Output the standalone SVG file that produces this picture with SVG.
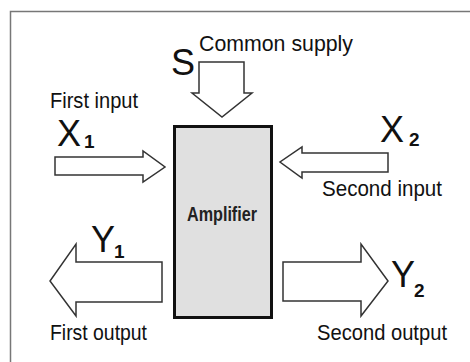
<svg xmlns="http://www.w3.org/2000/svg" width="470" height="362" viewBox="0 0 470 362">
<style>
.frame{fill:none;stroke:#777;stroke-width:1.5}
.arrow{fill:#fff;stroke:#333;stroke-width:1.5;stroke-linejoin:miter}
.lbl{font-family:"Liberation Sans",Arial,sans-serif;font-size:22px;fill:#111}
.sym{font-family:"Liberation Sans",Arial,sans-serif;font-size:36px;fill:#111}
.sub{font-family:"Liberation Sans",Arial,sans-serif;font-size:19px;font-weight:bold;fill:#111}
.box{fill:#e0e0e0;stroke:#111;stroke-width:3}
.boxt{font-family:"Liberation Sans",Arial,sans-serif;font-size:21px;font-weight:bold;fill:#222}
</style>
<rect class="frame" x="10.5" y="11.5" width="520" height="420"/>
<g id="amplifier">
<rect class="box" x="174.5" y="126.5" width="97" height="191"/>
<text class="boxt" x="222" y="221" text-anchor="middle" textLength="70" lengthAdjust="spacingAndGlyphs">Amplifier</text>
</g>
<g id="connectors">
<polygon id="supply-arrow" class="arrow" points="199,62 244,62 244,93 252,93 222,117 192,93 199,93"/>
<polygon id="x1-arrow" class="arrow" points="55,157 143,157 143,151 165,167 143,182 143,175 55,175"/>
<polygon id="x2-arrow" class="arrow" points="388,153 302,153 302,147 280,162 302,178 302,172 388,172"/>
<polygon id="y1-arrow" class="arrow" points="162,262 76,262 76,244 50,281 76,316 76,302 162,302"/>
<polygon id="y2-arrow" class="arrow" points="283,262 361,262 361,244 388,281 361,316 361,301 283,301"/>
</g>
<g id="supply">
<text class="sym" x="171" y="75" font-size="38">S</text>
<text class="lbl" x="199" y="51" textLength="154" lengthAdjust="spacingAndGlyphs">Common supply</text>
</g>
<g id="input1">
<text class="lbl" x="50" y="108" textLength="88" lengthAdjust="spacingAndGlyphs">First input</text>
<text class="sym" x="57" y="146">X</text>
<text class="sub" x="84" y="148">1</text>
</g>
<g id="input2">
<text class="sym" x="380" y="142">X</text>
<text class="sub" x="409" y="146">2</text>
<text class="lbl" x="322" y="196" textLength="120" lengthAdjust="spacingAndGlyphs">Second input</text>
</g>
<g id="output1">
<text class="sym" x="91" y="252">Y</text>
<text class="sub" x="114" y="258">1</text>
<text class="lbl" x="50" y="340" textLength="97" lengthAdjust="spacingAndGlyphs">First output</text>
</g>
<g id="output2">
<text class="sym" x="391" y="287">Y</text>
<text class="sub" x="414" y="297">2</text>
<text class="lbl" x="317" y="340" textLength="130" lengthAdjust="spacingAndGlyphs">Second output</text>
</g>
</svg>
